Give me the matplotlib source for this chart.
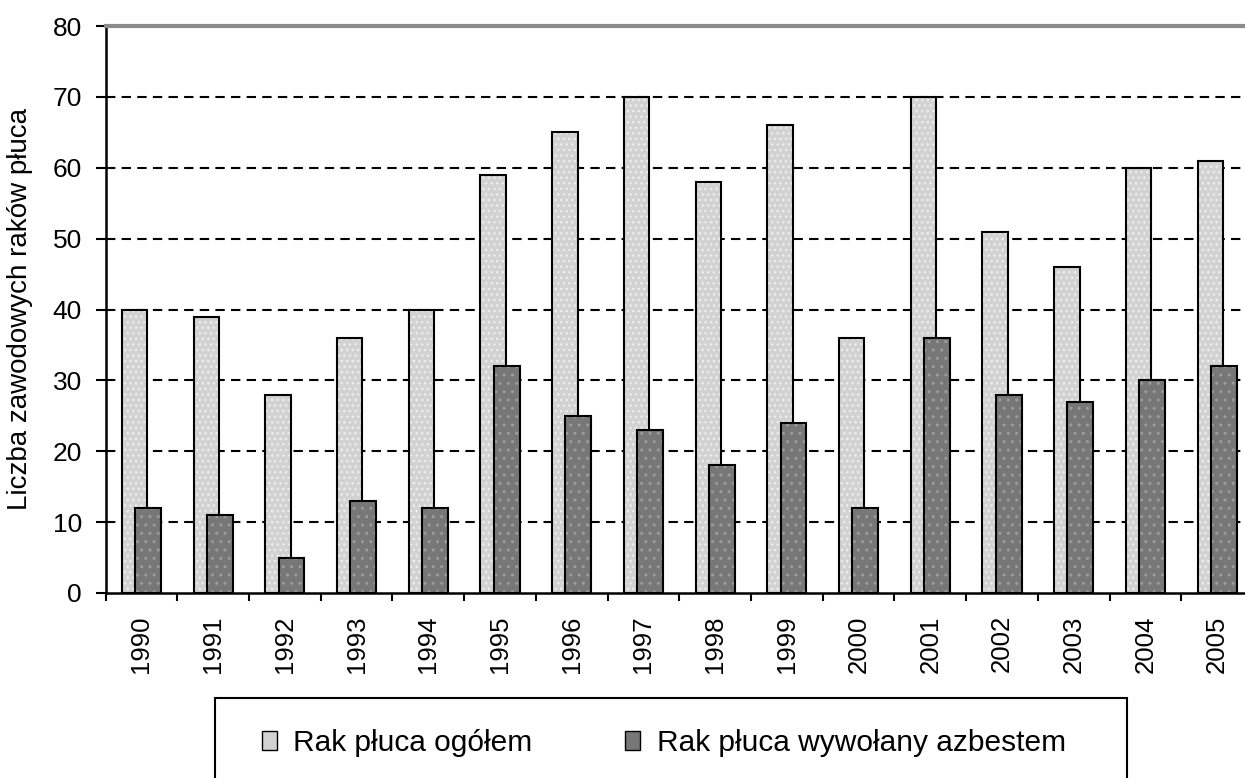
import matplotlib
matplotlib.use("Agg")
import matplotlib.pyplot as plt
from matplotlib.patches import Rectangle, Patch
import numpy as np

years = ["1990", "1991", "1992", "1993", "1994", "1995", "1996", "1997",
         "1998", "1999", "2000", "2001", "2002", "2003", "2004", "2005"]
total = [40, 39, 28, 36, 40, 59, 65, 70, 58, 66, 36, 70, 51, 46, 60, 61]
asbestos = [12, 11, 5, 13, 12, 32, 25, 23, 18, 24, 12, 36, 28, 27, 30, 32]
series_labels = ["Rak płuca ogółem", "Rak płuca wywołany azbestem"]
y_label = "Liczba zawodowych raków płuca"
y_ticks = [0, 10, 20, 30, 40, 50, 60, 70, 80]

plt.rcParams['font.family'] = ['Liberation Sans', 'DejaVu Sans']
plt.rcParams['hatch.linewidth'] = 1.0

W, H = 1245, 778
fig = plt.figure(figsize=(W / 100, H / 100), dpi=100)
ax = fig.add_axes([105.5 / W, 1 - 593 / H, 1147.5 / W, 567 / H])

x = np.arange(len(years))
light_c = '#d2d2d2'
light_dot = '#eeeeee'
dark_c = '#777777'
dark_dot = '#9c9c9c'
w1, o1 = 0.355, -0.095
w2, o2 = 0.36, 0.093
# textured fills
ax.bar(x + o1, total, width=w1, color=light_c, edgecolor=light_dot, hatch='...',
       linewidth=0, zorder=3)
ax.bar(x + o1, total, width=w1, fill=False, edgecolor='black', linewidth=1.5, zorder=3.1)
ax.bar(x + o2, asbestos, width=w2, color=dark_c, edgecolor=dark_dot, hatch='..',
       linewidth=0, zorder=4)
ax.bar(x + o2, asbestos, width=w2, fill=False, edgecolor='black', linewidth=1.5, zorder=4.1)

ax.set_xlim(-0.5, len(years) - 0.5)
ax.set_ylim(0, 80)
ax.set_yticks(y_ticks)
ax.set_yticklabels([str(v) for v in y_ticks])
ax.tick_params(axis='y', length=7, width=1.5, pad=10, labelsize=19, direction='out')
ax.set_xticks(x)
ax.set_xticklabels(years, rotation=90, fontsize=18.5)
ax.tick_params(axis='x', which='major', length=0, pad=16)
ax.set_xticks(np.arange(len(years) + 1) - 0.5, minor=True)
ax.tick_params(axis='x', which='minor', length=6, width=1.5, direction='out')

for v in y_ticks[1:-1]:
    ax.axhline(v, color='black', linewidth=1.5, linestyle=(0, (4.5, 3)), zorder=1)

for s in ['left', 'bottom']:
    ax.spines[s].set_linewidth(1.8)
    ax.spines[s].set_color('black')
ax.spines['top'].set_linewidth(3)
ax.spines['top'].set_color('#8a8a8a')
ax.spines['right'].set_visible(False)

ax.set_ylabel(y_label, fontsize=20)
ax.yaxis.set_label_coords(-0.063, 0.5)

# legend box
fig.patches.append(Rectangle((215 / W, -0.05), (1127 - 215) / W, (778 - 698) / H + 0.05,
                             transform=fig.transFigure, fill=False,
                             edgecolor='black', linewidth=1.5))
handles = [Patch(facecolor=light_c, edgecolor='black', linewidth=1.0),
           Patch(facecolor=dark_c, edgecolor='black', linewidth=1.0)]
fig.legend(handles, series_labels, loc='center left',
           bbox_to_anchor=(262 / W, 1 - 743 / H), ncol=2, frameon=False,
           prop={'size': 21.5}, handlelength=0.5, handleheight=0.6,
           handletextpad=0.55, columnspacing=3.1, borderaxespad=0, borderpad=0)

fig.savefig('out.png', dpi=100)
